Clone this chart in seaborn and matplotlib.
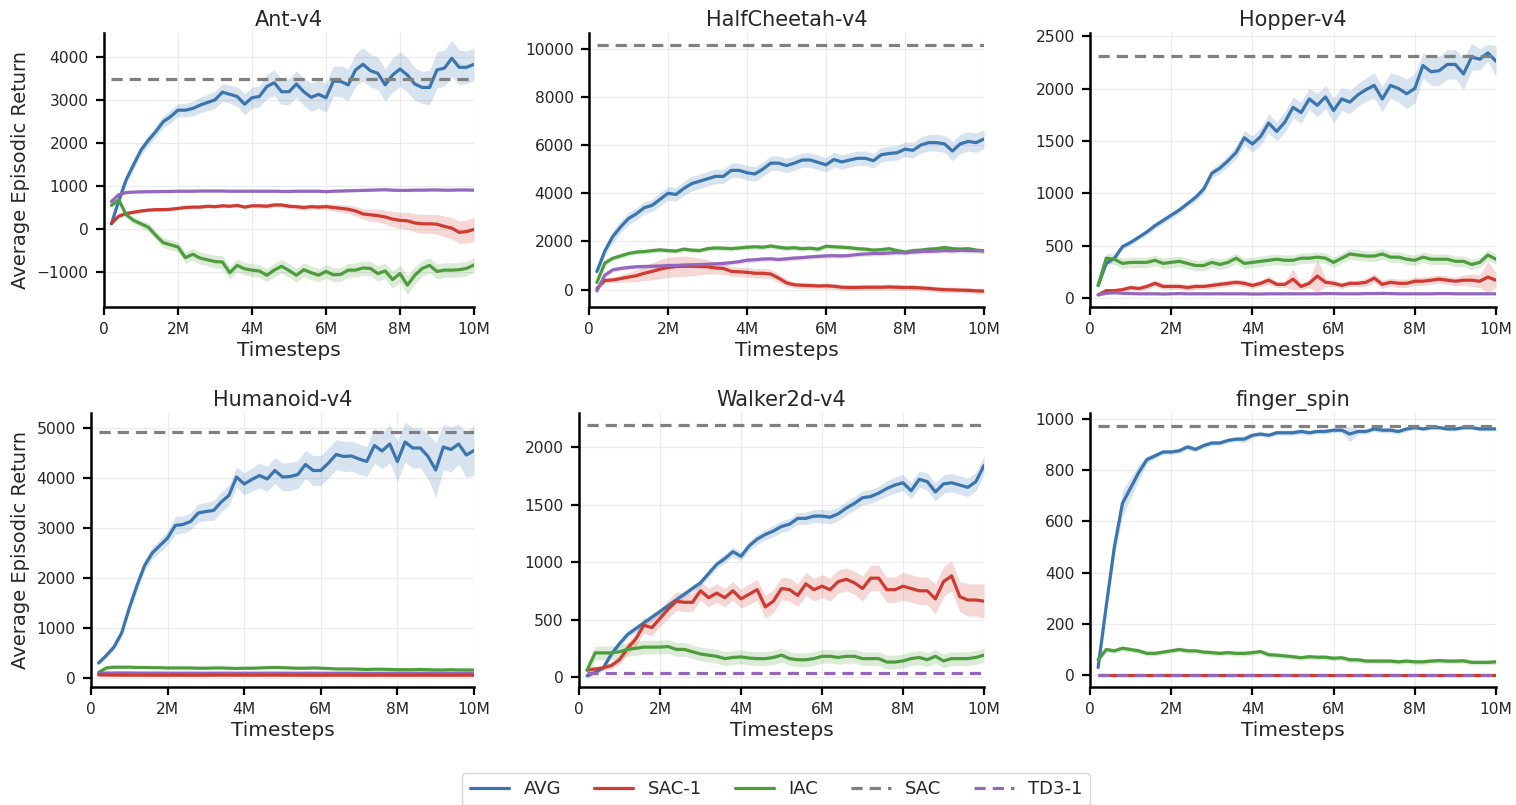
import numpy as np
import matplotlib
matplotlib.use("Agg")
import matplotlib.pyplot as plt
from matplotlib.lines import Line2D
from matplotlib.ticker import FuncFormatter, MultipleLocator
import seaborn as sns

# timesteps of the evaluation points (every 0.2M up to 10M)
steps = np.arange(1, 51) * 200_000

# ---------------- Ant-v4 ----------------
ant_avg = [120, 660, 1150, 1500, 1840, 2070, 2270, 2500, 2620, 2770,
           2770, 2810, 2890, 2950, 3010, 3190, 3140, 3090, 2910, 3060,
           3090, 3320, 3410, 3200, 3200, 3380, 3200, 3070, 3140, 3060,
           3450, 3440, 3360, 3710, 3840, 3690, 3630, 3360, 3590, 3730,
           3590, 3380, 3300, 3300, 3710, 3750, 3980, 3770, 3770, 3840]
ant_avg_sd = [60, 80, 100, 110, 120, 120, 130, 140, 150, 150,
              160, 170, 180, 190, 200, 200, 210, 230, 250, 240,
              250, 280, 300, 300, 300, 310, 320, 330, 330, 340,
              350, 360, 370, 380, 390, 380, 380, 380, 400, 400,
              400, 380, 380, 400, 420, 420, 420, 400, 380, 380]
ant_sac1 = [130, 300, 360, 390, 420, 440, 450, 450, 460, 480,
            500, 510, 510, 530, 520, 540, 530, 550, 510, 540,
            540, 530, 560, 560, 530, 520, 500, 520, 510, 520,
            500, 480, 460, 420, 350, 330, 310, 280, 230, 200,
            190, 140, 120, 120, 110, 60, 20, -80, -60, -10]
ant_sac1_sd = [40, 40, 40, 40, 40, 40, 40, 40, 40, 40,
               40, 40, 40, 40, 40, 40, 40, 40, 40, 40,
               50, 50, 50, 50, 50, 50, 60, 60, 60, 70,
               80, 90, 100, 110, 120, 140, 150, 160, 180, 190,
               200, 210, 220, 220, 230, 240, 250, 260, 270, 280]
ant_iac = [550, 680, 330, 200, 120, 40, -150, -320, -370, -420,
           -670, -590, -680, -720, -760, -770, -1020, -850, -930, -960,
           -980, -1080, -960, -870, -970, -1080, -950, -1020, -1080, -990,
           -1070, -1060, -960, -960, -910, -920, -1040, -980, -1180, -1040,
           -1310, -1080, -920, -850, -990, -960, -960, -950, -920, -840]
ant_iac_sd = [40, 60, 60, 80, 80, 100, 100, 110, 120, 120,
              130, 140, 140, 140, 150, 150, 150, 150, 150, 150,
              150, 150, 160, 160, 160, 160, 160, 160, 160, 160,
              160, 160, 160, 160, 170, 170, 180, 180, 200, 200,
              220, 200, 180, 180, 180, 170, 170, 170, 170, 170]
ant_td3 = [640, 800, 850, 860, 865, 870, 870, 875, 875, 880,
           880, 880, 885, 885, 885, 885, 880, 880, 880, 880,
           880, 880, 880, 875, 875, 880, 880, 880, 880, 870,
           880, 885, 890, 895, 900, 905, 910, 915, 905, 900,
           900, 905, 905, 910, 910, 905, 905, 910, 910, 905]
ant_td3_sd = 30
ant_sac = 3500

# ---------------- HalfCheetah-v4 ----------------
hc_avg = [750, 1600, 2200, 2600, 2950, 3150, 3400, 3500, 3750, 4000,
          3950, 4200, 4400, 4500, 4600, 4700, 4700, 4950, 4950, 4850,
          4800, 5000, 5250, 5250, 5150, 5250, 5380, 5380, 5280, 5180,
          5400, 5300, 5380, 5450, 5450, 5350, 5600, 5650, 5680, 5830,
          5780, 6000, 6100, 6100, 6050, 5750, 6050, 6150, 6100, 6250]
hc_avg_sd = [100, 200, 250, 250, 250, 250, 250, 250, 270, 280,
             280, 290, 300, 300, 300, 300, 300, 300, 300, 300,
             300, 300, 300, 300, 300, 300, 300, 300, 300, 300,
             300, 300, 300, 300, 300, 300, 300, 300, 300, 300,
             320, 330, 340, 350, 350, 400, 400, 400, 400, 400]
hc_sac1 = [50, 380, 400, 460, 520, 580, 680, 760, 850, 920,
           960, 970, 970, 960, 950, 900, 880, 760, 740, 720,
           680, 680, 650, 480, 280, 200, 180, 170, 150, 160,
           140, 100, 90, 90, 100, 100, 100, 110, 100, 90,
           90, 70, 50, 20, 0, -10, -20, -30, -50, -60]
hc_sac1_sd = [80, 100, 120, 150, 200, 250, 300, 350, 400, 420,
              420, 420, 400, 350, 300, 250, 250, 200, 200, 200,
              200, 200, 200, 180, 150, 130, 120, 120, 120, 120,
              120, 120, 120, 120, 120, 120, 120, 120, 120, 120,
              120, 120, 120, 120, 120, 120, 120, 120, 120, 120]
hc_iac = [300, 1100, 1300, 1400, 1500, 1560, 1580, 1620, 1650, 1620,
          1600, 1680, 1640, 1620, 1700, 1730, 1720, 1700, 1730, 1760,
          1780, 1760, 1810, 1760, 1720, 1740, 1700, 1720, 1680, 1800,
          1780, 1760, 1740, 1700, 1680, 1640, 1660, 1700, 1620, 1560,
          1620, 1640, 1680, 1700, 1750, 1700, 1680, 1700, 1640, 1600]
hc_iac_sd = 100
hc_td3 = [-50, 600, 820, 880, 920, 950, 960, 970, 980, 1000,
          1000, 1020, 1030, 1040, 1050, 1070, 1090, 1120, 1160, 1220,
          1240, 1270, 1280, 1250, 1280, 1310, 1330, 1360, 1380, 1400,
          1410, 1400, 1420, 1460, 1480, 1500, 1500, 1520, 1540, 1530,
          1560, 1580, 1590, 1600, 1620, 1610, 1630, 1620, 1620, 1620]
hc_td3_sd = 100
hc_sac = 10150

# ---------------- Hopper-v4 ----------------
hop_avg = [120, 330, 380, 490, 530, 580, 630, 690, 740, 790,
           840, 900, 960, 1040, 1190, 1240, 1310, 1390, 1530, 1470,
           1540, 1670, 1590, 1680, 1820, 1770, 1900, 1840, 1920, 1790,
           1900, 1870, 1940, 1990, 2030, 1900, 2030, 2000, 1950, 2000,
           2220, 2160, 2170, 2230, 2230, 2140, 2300, 2280, 2340, 2260]
hop_avg_sd = [20, 25, 25, 25, 25, 25, 30, 30, 30, 30,
              30, 30, 35, 40, 45, 50, 55, 60, 70, 80,
              80, 90, 90, 100, 100, 100, 100, 110, 110, 120,
              110, 110, 110, 110, 120, 120, 120, 130, 140, 140,
              120, 130, 140, 140, 140, 150, 130, 100, 80, 150]
hop_sac1 = [30, 70, 70, 80, 100, 90, 110, 140, 110, 110,
            110, 100, 110, 110, 120, 130, 140, 150, 140, 120,
            140, 170, 130, 130, 180, 110, 140, 210, 150, 140,
            120, 140, 140, 150, 190, 130, 150, 140, 140, 160,
            160, 170, 180, 170, 160, 170, 170, 160, 200, 170]
hop_sac1_sd = [15, 20, 20, 20, 25, 25, 30, 30, 30, 30,
               30, 30, 30, 30, 30, 30, 30, 30, 30, 30,
               30, 40, 30, 30, 100, 30, 40, 160, 40, 30,
               30, 30, 30, 40, 40, 40, 40, 40, 40, 40,
               40, 40, 40, 40, 40, 50, 60, 60, 150, 70]
hop_iac = [120, 380, 370, 330, 340, 340, 340, 360, 330, 340,
           350, 330, 310, 310, 340, 320, 340, 380, 330, 340,
           350, 360, 370, 360, 360, 380, 380, 390, 380, 340,
           380, 420, 410, 400, 400, 420, 390, 390, 370, 360,
           390, 370, 370, 370, 350, 350, 320, 340, 410, 370]
hop_iac_sd = 50
hop_td3 = [30, 45, 50, 45, 42, 40, 40, 40, 38, 40,
           42, 40, 40, 40, 40, 40, 40, 40, 40, 38,
           38, 40, 40, 40, 40, 40, 40, 40, 42, 42,
           40, 40, 40, 42, 42, 44, 42, 40, 40, 40,
           40, 40, 42, 42, 40, 40, 40, 40, 40, 40]
hop_td3_sd = 8
hop_sac = 2315

# ---------------- Humanoid-v4 ----------------
hum_avg = [300, 450, 620, 900, 1400, 1850, 2250, 2500, 2650, 2800,
           3050, 3070, 3130, 3300, 3330, 3350, 3520, 3650, 4020, 3880,
           3970, 4050, 3980, 4150, 4020, 4030, 4070, 4270, 4150, 4150,
           4300, 4470, 4430, 4440, 4380, 4330, 4650, 4540, 4680, 4330,
           4720, 4600, 4600, 4430, 4160, 4620, 4570, 4680, 4460, 4550]
hum_avg_sd = [40, 50, 60, 70, 90, 100, 110, 120, 130, 140,
              180, 170, 170, 180, 180, 200, 200, 200, 200, 220,
              230, 250, 250, 260, 280, 280, 280, 280, 300, 300,
              300, 300, 300, 300, 300, 300, 350, 350, 380, 400,
              400, 400, 400, 450, 550, 450, 450, 400, 450, 500]
hum_sac1 = [60, 58, 56, 55, 55, 55, 55, 54, 54, 54,
            55, 55, 54, 54, 55, 55, 56, 56, 55, 55,
            55, 55, 56, 56, 55, 55, 55, 54, 54, 54,
            55, 55, 55, 55, 54, 54, 55, 55, 55, 54,
            54, 54, 55, 55, 54, 54, 54, 55, 55, 55]
hum_sac1_sd = 10
hum_iac = [110, 200, 215, 215, 215, 210, 210, 205, 205, 200,
           200, 200, 200, 195, 195, 200, 200, 195, 190, 195,
           195, 200, 205, 210, 205, 200, 195, 195, 200, 195,
           190, 180, 180, 180, 175, 170, 175, 175, 170, 165,
           165, 165, 170, 165, 160, 160, 165, 160, 160, 158]
hum_iac_sd = 15
hum_td3 = [95, 98, 100, 100, 100, 98, 98, 97, 97, 96,
           96, 96, 95, 95, 95, 96, 96, 96, 95, 95,
           95, 95, 96, 96, 96, 95, 95, 95, 95, 95,
           95, 95, 95, 95, 94, 94, 94, 94, 95, 95,
           95, 95, 95, 95, 95, 94, 94, 94, 94, 94]
hum_td3_sd = 8
hum_sac = 4910

# ---------------- Walker2d-v4 ----------------
wal_avg = [10, 40, 80, 200, 290, 370, 420, 470, 520, 570,
           620, 670, 720, 770, 820, 900, 980, 1030, 1090, 1050,
           1140, 1200, 1240, 1270, 1310, 1330, 1380, 1380, 1400, 1400,
           1390, 1420, 1470, 1510, 1560, 1570, 1600, 1640, 1670, 1690,
           1620, 1720, 1700, 1610, 1680, 1690, 1670, 1650, 1700, 1840]
wal_avg_sd = [15, 20, 25, 30, 30, 30, 30, 30, 30, 30,
              30, 30, 30, 30, 30, 35, 35, 40, 40, 40,
              40, 45, 45, 50, 50, 50, 50, 55, 55, 60,
              60, 60, 60, 60, 60, 60, 60, 65, 70, 70,
              70, 70, 75, 80, 80, 80, 80, 80, 80, 80]
wal_sac1 = [60, 70, 80, 100, 150, 250, 330, 450, 430, 510,
            590, 660, 650, 650, 750, 690, 730, 690, 750, 680,
            720, 760, 610, 660, 770, 760, 710, 810, 760, 790,
            760, 830, 850, 820, 770, 860, 860, 760, 760, 790,
            770, 750, 750, 680, 830, 880, 700, 670, 670, 660]
wal_sac1_sd = [20, 20, 20, 30, 40, 50, 60, 70, 70, 70,
               80, 80, 80, 80, 80, 80, 80, 80, 80, 80,
               90, 90, 100, 100, 100, 100, 100, 100, 100, 100,
               100, 100, 100, 100, 110, 110, 110, 110, 110, 120,
               120, 120, 120, 130, 130, 130, 130, 140, 140, 150]
wal_iac = [60, 210, 210, 210, 220, 240, 250, 260, 260, 260,
           265, 240, 240, 220, 200, 190, 180, 160, 170, 175,
           165, 160, 160, 170, 190, 160, 150, 150, 160, 180,
           180, 170, 180, 180, 160, 160, 160, 130, 130, 140,
           160, 170, 150, 180, 140, 160, 160, 160, 170, 190]
wal_iac_sd = 60
wal_td3 = 32
wal_sac = 2190

# ---------------- finger_spin ----------------
fs_avg = [30, 270, 500, 670, 730, 790, 840, 855, 870, 870,
          875, 890, 880, 895, 905, 905, 915, 920, 920, 935,
          940, 935, 945, 945, 945, 950, 945, 950, 950, 955,
          955, 940, 950, 950, 960, 955, 955, 950, 960, 965,
          960, 965, 965, 960, 960, 965, 965, 960, 960, 960]
fs_avg_sd = [10, 20, 40, 50, 40, 30, 15, 10, 10, 10,
             10, 10, 10, 10, 10, 10, 10, 10, 15, 10,
             10, 10, 10, 10, 10, 10, 10, 10, 10, 10,
             10, 30, 10, 10, 10, 10, 10, 10, 10, 8,
             8, 8, 8, 8, 8, 8, 8, 8, 8, 8]
fs_iac = [60, 100, 95, 105, 100, 95, 85, 85, 90, 95,
          100, 95, 95, 90, 88, 85, 88, 85, 85, 88,
          92, 80, 78, 75, 72, 68, 72, 70, 70, 66,
          68, 60, 60, 55, 55, 55, 55, 52, 55, 52,
          52, 55, 57, 55, 55, 56, 50, 50, 50, 52]
fs_iac_sd = 10
fs_sac1 = 0
fs_td3 = 0
fs_sac = 970

C_AVG = "#3a75b0"
C_SAC1 = "#cf3a31"
C_IAC = "#4d9d3c"
C_SAC = "#808080"
C_TD3 = "#9467bd"

sns.set_theme(style="ticks", rc={"axes.grid": True, "grid.color": "#ebebeb",
                                 "grid.linewidth": 0.8})
plt.rcParams["font.family"] = ["DejaVu Sans"]

fig = plt.figure(figsize=(15.16, 8.05), dpi=100)
W, H = 1516, 805


def make_ax(left, top, right, bottom):
    return fig.add_axes([left / W, 1 - bottom / H, (right - left) / W, (bottom - top) / H])


def curve(ax, y, sd, color):
    y = np.asarray(y, dtype=float)
    sd = np.broadcast_to(np.asarray(sd, dtype=float), y.shape)
    ax.fill_between(steps, y - sd, y + sd, color=color, alpha=0.2, lw=0)
    sns.lineplot(x=steps, y=y, ax=ax, color=color, lw=2.3)


def hline(ax, val, color, dashed=True):
    ax.hlines(val, steps[0], steps[-1], colors=color, lw=2.3,
              linestyles=(0, (3.5, 2.2)) if dashed else "solid", zorder=3)


panels = [
    ("Ant-v4", (104, 33, 474, 307), (-1820, 4570), 1000),
    ("HalfCheetah-v4", (589, 33, 984, 307), (-720, 10650), 2000),
    ("Hopper-v4", (1090, 33, 1496, 307), (-86, 2530), 500),
    ("Humanoid-v4", (91, 413, 474, 687), (-181, 5300), 1000),
    ("Walker2d-v4", (579, 413, 984, 687), (-87, 2297), 500),
    ("finger_spin", (1090, 413, 1496, 687), (-46, 1022), 200),
]

axes = []
for title, box, ylim, ystep in panels:
    ax = make_ax(*box)
    axes.append(ax)

# Ant
ax = axes[0]
curve(ax, ant_avg, ant_avg_sd, C_AVG)
curve(ax, ant_sac1, ant_sac1_sd, C_SAC1)
curve(ax, ant_iac, ant_iac_sd, C_IAC)
curve(ax, ant_td3, ant_td3_sd, C_TD3)
hline(ax, ant_sac, C_SAC)

# HalfCheetah
ax = axes[1]
curve(ax, hc_avg, hc_avg_sd, C_AVG)
curve(ax, hc_sac1, hc_sac1_sd, C_SAC1)
curve(ax, hc_iac, hc_iac_sd, C_IAC)
curve(ax, hc_td3, hc_td3_sd, C_TD3)
hline(ax, hc_sac, C_SAC)

# Hopper
ax = axes[2]
curve(ax, hop_avg, hop_avg_sd, C_AVG)
curve(ax, hop_sac1, hop_sac1_sd, C_SAC1)
curve(ax, hop_iac, hop_iac_sd, C_IAC)
curve(ax, hop_td3, hop_td3_sd, C_TD3)
hline(ax, hop_sac, C_SAC)

# Humanoid
ax = axes[3]
curve(ax, hum_avg, hum_avg_sd, C_AVG)
curve(ax, hum_iac, hum_iac_sd, C_IAC)
curve(ax, hum_td3, hum_td3_sd, C_TD3)
curve(ax, hum_sac1, hum_sac1_sd, C_SAC1)
hline(ax, hum_sac, C_SAC)

# Walker2d
ax = axes[4]
curve(ax, wal_avg, wal_avg_sd, C_AVG)
curve(ax, wal_sac1, wal_sac1_sd, C_SAC1)
curve(ax, wal_iac, wal_iac_sd, C_IAC)
hline(ax, wal_td3, C_TD3)
hline(ax, wal_sac, C_SAC)

# finger_spin
ax = axes[5]
curve(ax, fs_avg, fs_avg_sd, C_AVG)
curve(ax, fs_iac, fs_iac_sd, C_IAC)
hline(ax, fs_sac1, C_SAC1, dashed=False)
hline(ax, fs_td3, C_TD3)
hline(ax, fs_sac, C_SAC)

fmt = FuncFormatter(lambda v, p: "0" if v == 0 else f"{int(round(v / 1e6))}M")
for i, (ax, (title, box, ylim, ystep)) in enumerate(zip(axes, panels)):
    ax.set_xlim(0, 10_000_000)
    ax.set_ylim(*ylim)
    ax.xaxis.set_major_locator(MultipleLocator(2_000_000))
    ax.xaxis.set_major_formatter(fmt)
    ax.yaxis.set_major_locator(MultipleLocator(ystep))
    ax.set_title(title, fontsize=15, pad=5)
    ax.set_xlabel("Timesteps", fontsize=14.5, labelpad=3)
    ax.set_ylabel("Average Episodic Return" if i % 3 == 0 else "", fontsize=14, labelpad=5)
    ax.tick_params(labelsize=11.2, length=6, width=1.6, color="black", pad=5)
    for s in ("left", "bottom"):
        ax.spines[s].set_linewidth(1.8)
        ax.spines[s].set_color("black")
    sns.despine(ax=ax)
    ax.grid(True, color="#ebebeb", lw=0.8)

handles = [
    Line2D([], [], color=C_AVG, lw=2.3),
    Line2D([], [], color=C_SAC1, lw=2.3),
    Line2D([], [], color=C_IAC, lw=2.3),
    Line2D([], [], color=C_SAC, lw=2.3, ls=(0, (3.5, 2.2))),
    Line2D([], [], color=C_TD3, lw=2.3, ls=(0, (3.5, 2.2))),
]
fig.legend(handles, ["AVG", "SAC-1", "IAC", "SAC", "TD3-1"], loc="upper center",
           bbox_to_anchor=(776 / W, 1 - 773 / H), ncol=5, fontsize=13,
           frameon=True, handlelength=2.2, columnspacing=1.8, borderaxespad=0,
           edgecolor="#cccccc")

fig.savefig("out.png", dpi=100)
